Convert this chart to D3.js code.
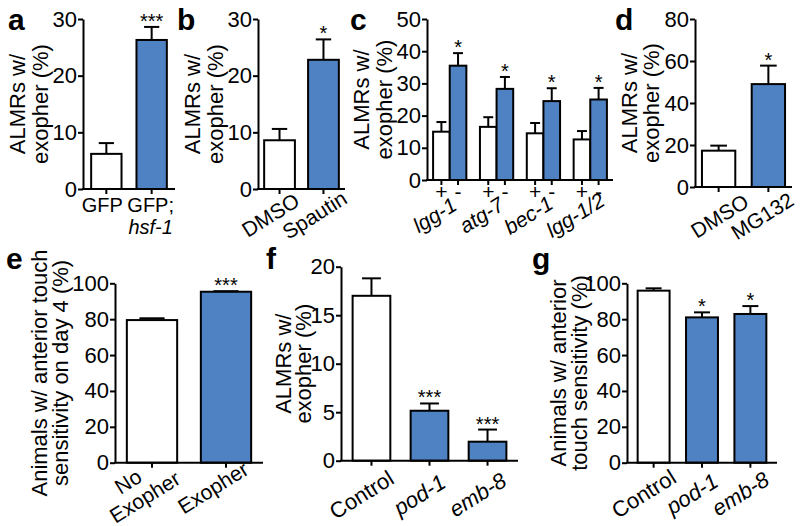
<!DOCTYPE html>
<html><head><meta charset="utf-8">
<script src="https://cdn.jsdelivr.net/npm/d3@7"></script>
<style>
body{margin:0;background:#fff;}
svg text{font-family:"Liberation Sans",Arial,sans-serif;fill:#000;}
</style></head><body>
<svg id="chart" width="800" height="526"></svg>
<script>
// ---------------- data ----------------
const aCategories = ["GFP", "GFP; hsf-1"];
const aValues = [6.2, 26.3];
const aErrors = [1.9, 2.3];
const aSignif = ["", "***"];
const aTicks = [0, 10, 20, 30];

const bCategories = ["DMSO", "Spautin"];
const bValues = [8.6, 22.8];
const bErrors = [2.0, 3.6];
const bSignif = ["", "*"];
const bTicks = [0, 10, 20, 30];

const cGenes = ["lgg-1", "atg-7", "bec-1", "lgg-1/2"];
const cConditions = ["+", "-"];
const cPlusValues = [15.0, 16.5, 14.5, 12.6];
const cPlusErrors = [3.0, 3.0, 3.2, 2.6];
const cMinusValues = [35.5, 28.3, 24.5, 25.0];
const cMinusErrors = [3.9, 3.7, 4.0, 3.6];
const cSignif = ["*", "*", "*", "*"];
const cTicks = [0, 10, 20, 30, 40, 50];

const dCategories = ["DMSO", "MG132"];
const dValues = [17.3, 49.0];
const dErrors = [2.4, 8.8];
const dSignif = ["", "*"];
const dTicks = [0, 20, 40, 60, 80];

const eCategories = ["No Exopher", "Exopher"];
const eValues = [79.5, 95.3];
const eErrors = [1.0, 0.3];
const eSignif = ["", "***"];
const eTicks = [0, 20, 40, 60, 80, 100];

const fCategories = ["Control", "pod-1", "emb-8"];
const fValues = [17.0, 5.15, 1.96];
const fErrors = [1.8, 0.75, 1.25];
const fSignif = ["", "***", "***"];
const fTicks = [0, 5, 10, 15, 20];

const gCategories = ["Control", "pod-1", "emb-8"];
const gValues = [95.9, 81.0, 82.9];
const gErrors = [1.3, 2.8, 4.4];
const gSignif = ["", "*", "*"];
const gTicks = [0, 20, 40, 60, 80, 100];

const yLabelALMR = ["ALMRs w/", "exopher (%)"];
const yLabelE = ["Animals w/ anterior touch", "sensitivity on day 4 (%)"];
const yLabelG = ["Animals w/ anterior", "touch sensitivity (%)"];

// label lines: [text, italic]
const aXLabels = [[["GFP", false]], [["GFP;", false], ["hsf-1", true]]];
const bXLabels = [[["DMSO", false]], [["Spautin", false]]];
const dXLabels = [[["DMSO", false]], [["MG132", false]]];
const eXLabels = [[["No", false], ["Exopher", false]], [["Exopher", false]]];
const fXLabels = [[["Control", false]], [["pod-1", true]], [["emb-8", true]]];
const gXLabels = fXLabels;

// ---------------- style ----------------
const BLUE = "#4f82c3";
const WHITE = "#ffffff";
const SW = 2;
const svg = d3.select("#chart");

function styleAxis(sel, fs) {
  sel.attr("font-family", null).attr("font-size", null);
  sel.select(".domain").attr("stroke", "#000").attr("stroke-width", SW);
  sel.selectAll(".tick line").attr("stroke", "#000").attr("stroke-width", SW);
  sel.selectAll(".tick text").attr("fill", "#000").style("font-size", fs + "px");
}

function drawYLabel(g, lines, xs, cy, fs) {
  lines.forEach((t, i) => {
    g.append("text")
      .attr("transform", `translate(${xs[i]},${cy}) rotate(-90)`)
      .attr("text-anchor", "middle")
      .style("font-size", fs + "px")
      .text(t);
  });
}

function drawXLabel(g, lines, cx, ay, o, catDx) {
  const grp = g.append("g").attr("transform", `translate(${cx + o.dx + (catDx || 0)},${ay + o.dy}) rotate(${o.angle})`);
  const n = lines.length;
  lines.forEach((ln, i) => {
    const yy = o.align === "top" ? i * o.lh : (i - (n - 1) / 2) * o.lh + 0.35 * o.fs;
    grp.append("text")
      .attr("x", (o.lineDx && n > 1 && o.lineDx[i]) || 0)
      .attr("y", yy)
      .attr("text-anchor", "middle")
      .style("font-size", o.fs + "px")
      .style("font-style", ln[1] ? "italic" : "normal")
      .text(ln[0]);
  });
}

function drawBarsAndErrors(g, rows, xPos, width, y, capFrac, sigOffset, sigFs) {
  g.selectAll(null).data(rows).join("rect")
    .attr("x", d => xPos(d))
    .attr("width", width)
    .attr("y", d => y(d.v))
    .attr("height", d => y(0) - y(d.v))
    .attr("fill", d => d.fill)
    .attr("stroke", "#000").attr("stroke-width", SW);
  const eb = rows.filter(d => d.e > 0);
  g.selectAll(null).data(eb).join("line")
    .attr("x1", d => xPos(d) + width / 2).attr("x2", d => xPos(d) + width / 2)
    .attr("y1", d => y(d.v)).attr("y2", d => y(d.v + d.e))
    .attr("stroke", "#000").attr("stroke-width", SW);
  g.selectAll(null).data(eb).join("line")
    .attr("x1", d => xPos(d) + width / 2 - width * capFrac / 2)
    .attr("x2", d => xPos(d) + width / 2 + width * capFrac / 2)
    .attr("y1", d => y(d.v + d.e)).attr("y2", d => y(d.v + d.e))
    .attr("stroke", "#000").attr("stroke-width", SW);
  g.selectAll(null).data(rows.filter(d => d.s)).join("text")
    .attr("x", d => xPos(d) + width / 2)
    .attr("y", d => y(d.v + d.e) + sigOffset)
    .attr("text-anchor", "middle")
    .style("font-size", sigFs + "px")
    .text(d => d.s);
}

function drawSimplePanel(p) {
  const g = svg.append("g");
  const y = d3.scaleLinear().domain([0, p.ticks[p.ticks.length - 1]]).range([p.y0, p.y1]);
  const x = d3.scaleBand().domain(p.categories).range([p.x0, p.x1])
    .paddingInner(p.pi).paddingOuter(p.po);
  const rows = p.categories.map((c, i) => ({
    c, v: p.values[i], e: p.errors[i], s: p.signif[i], fill: i === 0 ? WHITE : BLUE
  }));
  drawBarsAndErrors(g, rows, d => x(d.c), x.bandwidth(), y, p.cap, p.sigOffset, 20);
  const ya = g.append("g").attr("transform", `translate(${p.x0},0)`)
    .call(d3.axisLeft(y).tickValues(p.ticks).tickSize(5).tickSizeOuter(0).tickPadding(1));
  styleAxis(ya, p.tickFs);
  const xa = g.append("g").attr("transform", `translate(0,${p.y0})`)
    .call(d3.axisBottom(x).tickSize(5).tickSizeOuter(0).tickFormat(""));
  styleAxis(xa, p.tickFs);
  xa.select(".domain").attr("d", `M${p.x0 - 1},0H${p.x1}`);
  p.categories.forEach((c, i) => drawXLabel(g, p.xLabels[i], x(c) + x.bandwidth() / 2, p.y0, p.xl,
    p.catDx ? p.catDx[i] : 0));
  drawYLabel(g, p.yLabel, p.yLabelX, (p.y0 + p.y1) / 2, p.yFs);
  g.append("text").attr("x", p.letter[0]).attr("y", p.letter[1])
    .style("font-size", "30px").style("font-weight", "bold").text(p.name);
}

// ---------------- panels ----------------
drawSimplePanel({
  name: "a", categories: aCategories, values: aValues, errors: aErrors, signif: aSignif, ticks: aTicks,
  x0: 83, x1: 175, y0: 189, y1: 19, pi: 0.33, po: 0.18, cap: 0.5, sigOffset: 1, tickFs: 22,
  xLabels: aXLabels, xl: {angle: 0, dx: 0, dy: 23, fs: 20, lh: 22, align: "top"}, catDx: [-4, -1],
  yLabel: yLabelALMR, yLabelX: [25, 48], yFs: 22, letter: [8, 30]
});
drawSimplePanel({
  name: "b", categories: bCategories, values: bValues, errors: bErrors, signif: bSignif, ticks: bTicks,
  x0: 258, x1: 345, y0: 189, y1: 19, pi: 0.3, po: 0.14, cap: 0.5, sigOffset: 1, tickFs: 22,
  xLabels: bXLabels, xl: {angle: -32, dx: -9, dy: 26, fs: 21, lh: 22, align: "center"},
  yLabel: yLabelALMR, yLabelX: [200, 223], yFs: 22, letter: [177, 30]
});
drawSimplePanel({
  name: "d", categories: dCategories, values: dValues, errors: dErrors, signif: dSignif, ticks: dTicks,
  x0: 695, x1: 792, y0: 187, y1: 19, pi: 0.33, po: 0.14, cap: 0.5, sigOffset: 1, tickFs: 22,
  xLabels: dXLabels, xl: {angle: -32, dx: -1, dy: 29, fs: 21, lh: 22, align: "center"}, catDx: [2, -5],
  yLabel: yLabelALMR, yLabelX: [637, 659], yFs: 22, letter: [615, 30]
});
drawSimplePanel({
  name: "e", categories: eCategories, values: eValues, errors: eErrors, signif: eSignif, ticks: eTicks,
  x0: 115, x1: 263, y0: 462.7, y1: 283.3, pi: 0.32, po: 0.16, cap: 0.5, sigOffset: 1, tickFs: 22,
  xLabels: eXLabels, xl: {angle: -32, dx: -13, dy: 25, fs: 21, lh: 22, align: "center", lineDx: [-6, 0]},
  yLabel: yLabelE, yLabelX: [47, 68], yFs: 22, letter: [6, 269]
});
drawSimplePanel({
  name: "f", categories: fCategories, values: fValues, errors: fErrors, signif: fSignif, ticks: fTicks,
  x0: 341, x1: 518, y0: 460.7, y1: 266.7, pi: 0.35, po: 0.2, cap: 0.5, sigOffset: 1, tickFs: 22,
  xLabels: fXLabels, xl: {angle: -32, dx: -10, dy: 34, fs: 22, lh: 22, align: "center"},
  yLabel: yLabelALMR, yLabelX: [291, 311], yFs: 22, letter: [266, 269]
});
drawSimplePanel({
  name: "g", categories: gCategories, values: gValues, errors: gErrors, signif: gSignif, ticks: gTicks,
  x0: 627, x1: 777, y0: 462.7, y1: 283.3, pi: 0.34, po: 0.22, cap: 0.5, sigOffset: 1, tickFs: 22,
  xLabels: gXLabels, xl: {angle: -32, dx: -10, dy: 31, fs: 22, lh: 22, align: "center"},
  yLabel: yLabelG, yLabelX: [566, 587], yFs: 22, letter: [532, 269]
});

// panel c (grouped)
(function () {
  const x0 = 427, x1 = 613, y0 = 180, y1 = 19;
  const g = svg.append("g");
  const y = d3.scaleLinear().domain([0, cTicks[cTicks.length - 1]]).range([y0, y1]);
  const xg = d3.scaleBand().domain(cGenes).range([x0, x1]).paddingInner(0.29).paddingOuter(0.13);
  const xc = d3.scaleBand().domain(cConditions).range([0, xg.bandwidth()]).padding(0);
  const rows = [];
  cGenes.forEach((gname, i) => {
    rows.push({gname, cond: "+", v: cPlusValues[i], e: cPlusErrors[i], s: "", fill: WHITE});
    rows.push({gname, cond: "-", v: cMinusValues[i], e: cMinusErrors[i], s: cSignif[i], fill: BLUE});
  });
  drawBarsAndErrors(g, rows, d => xg(d.gname) + xc(d.cond), xc.bandwidth(), y, 0.6, 1, 20);
  const ya = g.append("g").attr("transform", `translate(${x0},0)`)
    .call(d3.axisLeft(y).tickValues(cTicks).tickSize(5).tickSizeOuter(0).tickPadding(1));
  styleAxis(ya, 22);
  const barCenters = rows.map(d => xg(d.gname) + xc(d.cond) + xc.bandwidth() / 2);
  const xa = g.append("g").attr("transform", `translate(0,${y0})`);
  xa.append("path").attr("d", `M${x0 - 1},0H${x1}`).attr("stroke", "#000").attr("stroke-width", SW);
  xa.selectAll(null).data(rows).join("line")
    .attr("x1", (d, i) => barCenters[i]).attr("x2", (d, i) => barCenters[i])
    .attr("y1", 0).attr("y2", 5).attr("stroke", "#000").attr("stroke-width", SW);
  xa.selectAll(null).data(rows).join("text")
    .attr("x", (d, i) => barCenters[i]).attr("y", 19)
    .attr("text-anchor", "middle").style("font-size", "21px").text(d => d.cond);
  cGenes.forEach(gname => drawXLabel(g, [[gname, true]], xg(gname) + xg.bandwidth() / 2, y0,
    {angle: -32, dx: -15, dy: 35, fs: 21, lh: 22, align: "center"}));
  drawYLabel(g, yLabelALMR, [369, 392], (y0 + y1) / 2, 22);
  g.append("text").attr("x", 350).attr("y", 30)
    .style("font-size", "30px").style("font-weight", "bold").text("c");
})();
</script>
</body></html>
